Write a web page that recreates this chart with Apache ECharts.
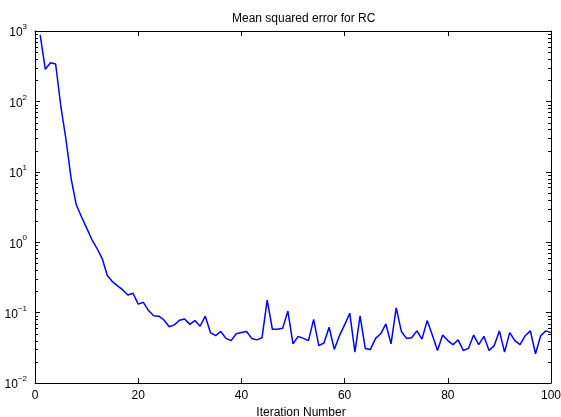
<!DOCTYPE html>
<html>
<head>
<meta charset="utf-8">
<script src="https://cdn.jsdelivr.net/npm/echarts@6/dist/echarts.min.js"></script>
<style>
  html, body { margin: 0; padding: 0; background: #fff; }
  #chart { width: 561px; height: 417px; }
</style>
</head>
<body>
<div id="chart"></div>
<script>
var chartTitle = 'Mean squared error for RC';
var xAxisName = 'Iteration Number';
var xTicks = [0, 20, 40, 60, 80, 100];
var yDecades = [-2, -1, 0, 1, 2, 3];

// mean squared error per iteration (1..100)
var mseValues = [
    880, 286, 355, 340, 86, 29, 8, 3.4, 2.3, 1.6,
    1.1, 0.82, 0.59, 0.34, 0.275, 0.24, 0.21, 0.178, 0.188, 0.132,
    0.14, 0.107, 0.09, 0.089, 0.0785, 0.063, 0.067, 0.078, 0.081, 0.068,
    0.077, 0.064, 0.089, 0.052, 0.047, 0.054, 0.043, 0.040, 0.050, 0.052,
    0.054, 0.043, 0.041, 0.044, 0.15, 0.058, 0.058, 0.06, 0.105, 0.036,
    0.046, 0.043, 0.040, 0.080, 0.034, 0.037, 0.062, 0.030, 0.047, 0.067,
    0.098, 0.0275, 0.090, 0.031, 0.030, 0.043, 0.050, 0.069, 0.036, 0.117,
    0.054, 0.043, 0.044, 0.055, 0.042, 0.077, 0.048, 0.029, 0.048, 0.040,
    0.035, 0.041, 0.029, 0.031, 0.048, 0.035, 0.046, 0.029, 0.034, 0.055,
    0.0275, 0.052, 0.040, 0.035, 0.047, 0.055, 0.026, 0.047, 0.055, 0.052
];

var font = 'Liberation Sans, Arial, Helvetica, sans-serif';

var chart = echarts.init(document.getElementById('chart'), null, { renderer: 'canvas' });

var seriesData = [];
for (var i = 0; i < mseValues.length; i++) {
    seriesData.push([i + 1, mseValues[i]]);
}

function logLabel(value) {
    var e = Math.round(Math.log(value) / Math.LN10);
    var s = e < 0 ? '\u2212' + (-e) : String(e);
    return '{b|10}{s|' + s + '}';
}

var axisLine = { show: true, onZero: false, lineStyle: { color: '#000', width: 1 } };
var tick = { show: true, inside: true, length: 5, lineStyle: { color: '#000' } };

var option = {
    animation: false,
    backgroundColor: '#fff',
    title: {
        text: chartTitle,
        left: 227,
        top: 8,
        textStyle: { fontFamily: font, fontSize: 12, fontWeight: 'normal', color: '#000' }
    },
    grid: { left: 35, right: 10, top: 31, bottom: 34, containLabel: false, outerBoundsMode: 'none' },
    xAxis: [{
        type: 'value',
        min: xTicks[0],
        max: xTicks[xTicks.length - 1],
        interval: 20,
        position: 'bottom',
        name: xAxisName,
        nameLocation: 'middle',
        nameGap: 23,
        nameTextStyle: { fontFamily: font, fontSize: 12, color: '#000', padding: [0, 0, 0, 16] },
        axisLine: axisLine,
        axisTick: tick,
        axisLabel: { fontFamily: font, fontSize: 12, color: '#000', margin: 7 },
        splitLine: { show: false }
    }, {
        type: 'value',
        min: xTicks[0],
        max: xTicks[xTicks.length - 1],
        interval: 20,
        position: 'top',
        axisLine: axisLine,
        axisTick: tick,
        axisLabel: { show: false },
        splitLine: { show: false }
    }],
    yAxis: [{
        type: 'log',
        logBase: 10,
        min: Math.pow(10, yDecades[0]),
        max: Math.pow(10, yDecades[yDecades.length - 1]),
        interval: 1,
        position: 'left',
        axisLine: axisLine,
        axisTick: tick,
        axisLabel: {
            margin: 8,
            hideOverlap: false,
            formatter: logLabel,
            rich: {
                b: { fontFamily: font, fontSize: 12, color: '#000', lineHeight: 16, verticalAlign: 'bottom' },
                s: { fontFamily: font, fontSize: 8, color: '#000', lineHeight: 4, verticalAlign: 'top' }
            }
        },
        splitLine: { show: false }
    }, {
        type: 'log',
        logBase: 10,
        min: Math.pow(10, yDecades[0]),
        max: Math.pow(10, yDecades[yDecades.length - 1]),
        interval: 1,
        position: 'right',
        axisLine: axisLine,
        axisTick: tick,
        axisLabel: { show: false },
        splitLine: { show: false }
    }],
    series: [{
        name: 'MSE',
        type: 'line',
        xAxisIndex: 0,
        yAxisIndex: 0,
        data: seriesData,
        showSymbol: false,
        symbol: 'none',
        lineStyle: { color: '#0000ff', width: 1.5 },
        itemStyle: { color: '#0000ff' }
    }]
};

chart.setOption(option);

// minor ticks at 2..9 of each decade, both sides, through the log scale
var left = chart.convertToPixel({ xAxisIndex: 0 }, xTicks[0]);
var right = chart.convertToPixel({ xAxisIndex: 0 }, xTicks[xTicks.length - 1]);
var minors = [];
for (var d = 0; d < yDecades.length - 1; d++) {
    for (var k = 2; k <= 9; k++) {
        var y = Math.round(chart.convertToPixel({ yAxisIndex: 0 }, k * Math.pow(10, yDecades[d]))) + 0.5;
        minors.push({ type: 'line', shape: { x1: left, y1: y, x2: left + 3, y2: y }, style: { stroke: '#000', lineWidth: 1 }, silent: true });
        minors.push({ type: 'line', shape: { x1: right - 3, y1: y, x2: right, y2: y }, style: { stroke: '#000', lineWidth: 1 }, silent: true });
    }
}
chart.setOption({ graphic: minors });
</script>
</body>
</html>
